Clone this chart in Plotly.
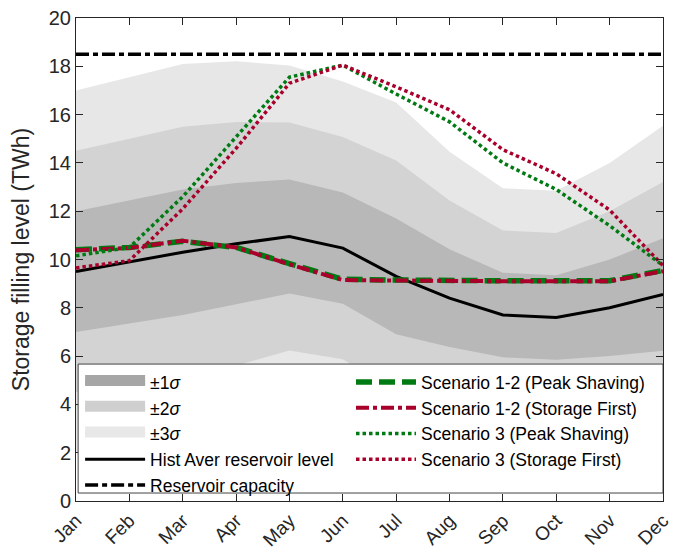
import plotly.graph_objects as go

months = ["Jan", "Feb", "Mar", "Apr", "May", "Jun", "Jul", "Aug", "Sep", "Oct", "Nov", "Dec"]
hist_avg = [9.5, 9.9, 10.3, 10.65, 10.95, 10.47, 9.3, 8.4, 7.7, 7.6, 8.0, 8.55]
hist_sigma = [2.5, 2.55, 2.6, 2.52, 2.36, 2.3, 2.4, 2.02, 1.75, 1.75, 2.0, 2.33]
capacity = [18.5] * 12
scen12_ps = [10.4, 10.5, 10.75, 10.5, 9.83, 9.18, 9.15, 9.12, 9.12, 9.12, 9.12, 9.55]
scen12_sf = [10.38, 10.48, 10.78, 10.5, 9.8, 9.15, 9.13, 9.1, 9.1, 9.1, 9.1, 9.52]
scen3_ps = [10.15, 10.5, 12.6, 15.1, 17.55, 18.05, 16.85, 15.7, 14.0, 12.9, 11.4, 9.75]
scen3_sf = [9.65, 9.95, 12.1, 14.6, 17.3, 18.05, 17.15, 16.2, 14.55, 13.55, 12.05, 9.75]

x = list(range(len(months)))
FONT = "Arial, Liberation Sans, sans-serif"
GREEN = "#007a12"
RED = "#a8002a"

fig = go.Figure()

# (k, plot fill colour, legend swatch colour, label)
band_specs = [(3, "#e7e7e7", "#e8e8e8", "±3<i>σ</i>"),
              (2, "#d3d3d3", "#cfcfcf", "±2<i>σ</i>"),
              (1, "#b8b8b8", "#a6a6a6", "±1<i>σ</i>")]
for k, col, _, name in band_specs:
    upper = [m + k * s for m, s in zip(hist_avg, hist_sigma)]
    lower = [m - k * s for m, s in zip(hist_avg, hist_sigma)]
    fig.add_trace(go.Scatter(
        x=x + x[::-1], y=upper + lower[::-1], fill="toself", fillcolor=col,
        mode="lines", line=dict(width=0, color=col), showlegend=False,
        hoverinfo="skip"))

fig.add_trace(go.Scatter(x=x, y=hist_avg, mode="lines", name="Hist Aver reservoir level",
                         line=dict(color="black", width=3), legend="legend", legendrank=4))
fig.add_trace(go.Scatter(x=x, y=capacity, mode="lines", name="Reservoir capacity",
                         line=dict(color="black", width=3.5, dash="13px,4px,5px,4px"),
                         legend="legend", legendrank=5))
fig.add_trace(go.Scatter(x=x, y=scen12_ps, mode="lines", name="Scenario 1-2 (Peak Shaving)",
                         line=dict(color=GREEN, width=5.5, dash="16px,7px"),
                         legend="legend2", legendrank=1))
fig.add_trace(go.Scatter(x=x, y=scen12_sf, mode="lines", name="Scenario 1-2 (Storage First)",
                         line=dict(color=RED, width=4, dash="13px,4px,4px,4px"),
                         legend="legend2", legendrank=2))
fig.add_trace(go.Scatter(x=x, y=scen3_ps, mode="lines", name="Scenario 3 (Peak Shaving)",
                         line=dict(color=GREEN, width=3.5, dash="3.5px,3px"),
                         legend="legend2", legendrank=3))
fig.add_trace(go.Scatter(x=x, y=scen3_sf, mode="lines", name="Scenario 3 (Storage First)",
                         line=dict(color=RED, width=3.5, dash="3.5px,3px"),
                         legend="legend2", legendrank=4))

# legend-only entries for the sigma bands (thicker swatches)
for rank, (k, _, swatch, name) in zip([3, 2, 1], band_specs):
    fig.add_trace(go.Scatter(x=[None], y=[None], mode="lines", fill="toself",
                             fillcolor=swatch, line=dict(color=swatch, width=10),
                             name=name, legend="legend", legendrank=rank, hoverinfo="skip"))

# legend box background
fig.add_shape(type="rect", xref="x", yref="y", x0=0.04, x1=11, y0=0.33, y1=5.67,
              fillcolor="white", line=dict(color="#444444", width=1), layer="above")

axis_common = dict(showgrid=False, zeroline=False, showline=True, linecolor="#262626",
                   linewidth=1, mirror="ticks", ticks="inside", ticklen=7, tickcolor="#262626",
                   automargin=False, ticklabeloverflow="allow",
                   tickfont=dict(family=FONT, size=20, color="#262626"))

fig.update_xaxes(range=[0, 11], tickvals=x, ticktext=months, tickangle=-45, **axis_common)
fig.update_xaxes(tickfont=dict(family=FONT, size=19, color="#262626"))
fig.update_yaxes(range=[0, 20], dtick=2, tick0=0,
                 title=dict(text="Storage filling level (TWh)",
                            font=dict(family=FONT, size=23, color="#262626"), standoff=13),
                 **axis_common)

legend_common = dict(orientation="v", xanchor="left", yanchor="top",
                     bgcolor="rgba(0,0,0,0)", borderwidth=0, itemwidth=60,
                     font=dict(family=FONT, size=17.5, color="black"), traceorder="normal")

# the page adds an 8px body margin, so the figure is sized to fit inside the window
fig.update_layout(
    width=682, height=543,
    margin=dict(l=68, r=27, t=10, b=50),
    paper_bgcolor="white", plot_bgcolor="white",
    font=dict(family=FONT, color="#262626"),
    showlegend=True,
    legend=dict(x=0.007, y=0.2834, **legend_common),
    legend2=dict(x=0.4685, y=0.2834, **legend_common),
)

fig.write_html("out.html")
